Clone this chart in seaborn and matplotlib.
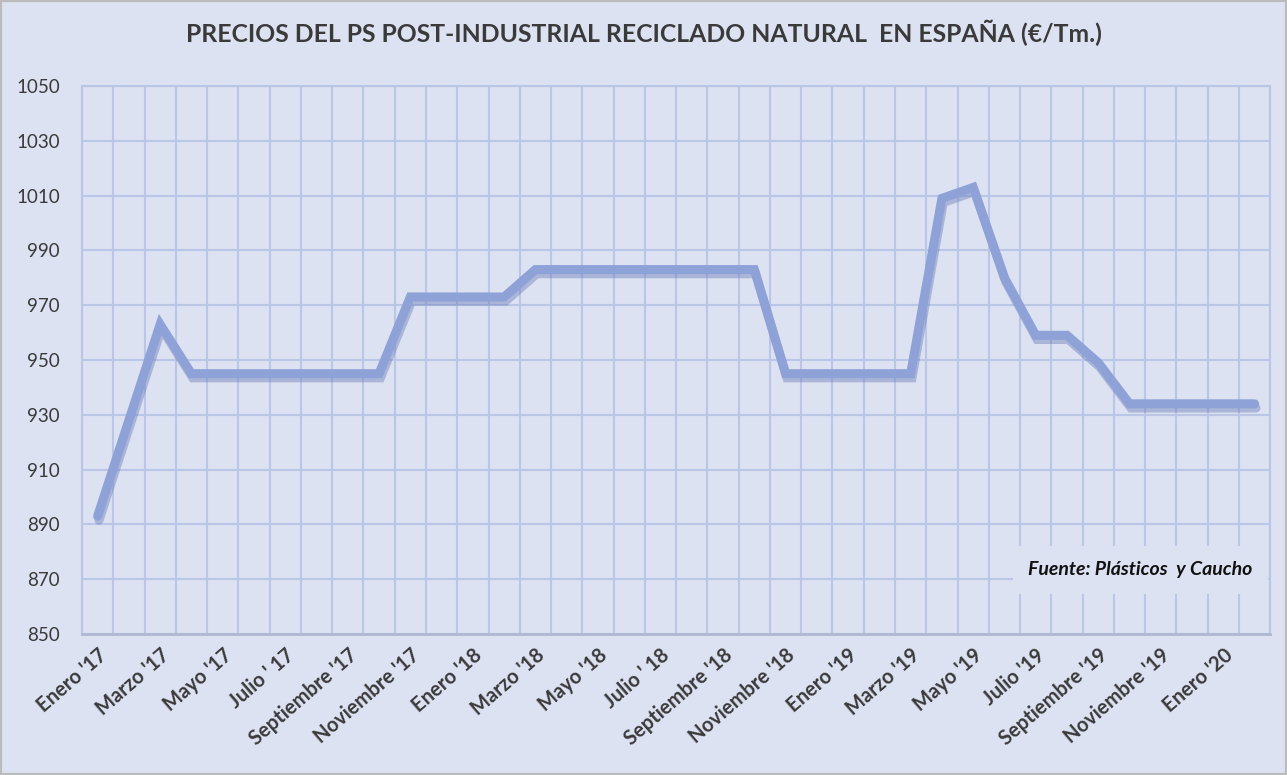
import pandas as pd
import numpy as np
import matplotlib
matplotlib.use("Agg")
import matplotlib.pyplot as plt
import matplotlib.patheffects as pe
import matplotlib.transforms as mtransforms
import seaborn as sns

# ==========================
# Data
# ==========================

meses = ["Enero", "Febrero", "Marzo", "Abril", "Mayo", "Junio", "Julio",
         "Agosto", "Septiembre", "Octubre", "Noviembre", "Diciembre"]

periodos = [f"{m} '{a}" for a in ["17", "18", "19"] for m in meses] + ["Enero '20", "Febrero '20"]

precios = [893, 928, 963, 945, 945, 945, 945, 945, 945, 945, 973, 973,
           973, 973, 983, 983, 983, 983, 983, 983, 983, 983, 945, 945,
           945, 945, 945, 1009, 1013, 980, 959, 959, 949, 934, 934, 934,
           934, 934]

etiquetas = ["Enero '17", "Marzo '17", "Mayo '17", "Julio ' 17", "Septiembre '17",
             "Noviembre '17", "Enero '18", "Marzo '18", "Mayo '18", "Julio ' 18",
             "Septiembre '18", "Noviembre '18", "Enero '19", "Marzo '19", "Mayo '19",
             "Julio '19", "Septiembre '19", "Noviembre '19", "Enero '20"]

df = pd.DataFrame({"periodo": periodos, "precio": precios})
df["idx"] = range(len(df))

# ==========================
# Plot
# ==========================

fondo = "#DCE2F2"
rejilla = "#B9C6E6"
linea = "#8EA2D8"
texto = "#3A3A3A"

sns.set_theme(style="white")
plt.rcParams["font.family"] = ["Lato", "DejaVu Sans"]

fig = plt.figure(figsize=(12.87, 7.75), dpi=100, facecolor=fondo)
ax = fig.add_axes([0.0637, 0.182, 0.9233, 0.707])
ax.set_facecolor(fondo)

sns.lineplot(data=df, x="idx", y="precio", ax=ax, color=linea, linewidth=6.5,
             solid_capstyle="round", solid_joinstyle="miter",
             path_effects=[pe.SimpleLineShadow(offset=(1, -3), shadow_color="#6F7FB8", alpha=0.45),
                           pe.Normal()])

ax.set_xlim(-0.5, len(df) - 0.5)
ax.set_ylim(850, 1050)
ax.set_yticks(range(850, 1051, 20))

# vertical grid between categories
ax.set_xticks(np.arange(-0.5, len(df), 1), minor=True)
ax.set_xticks(range(0, len(df), 2))
ax.set_xticklabels(etiquetas, rotation=41, ha="right", va="top", rotation_mode="anchor",
                   fontsize=14.5, fontweight="bold", color=texto)
desplaza = mtransforms.ScaledTranslation(-7 / 100, 0, fig.dpi_scale_trans)
for lab in ax.get_xticklabels():
    lab.set_transform(lab.get_transform() + desplaza)
ax.tick_params(axis="x", which="major", length=0, pad=8)
ax.tick_params(axis="x", which="minor", length=0)
ax.tick_params(axis="y", length=0, labelsize=13.5, labelcolor=texto, pad=16)
ax.grid(True, which="minor", axis="x", color=rejilla, linewidth=1.5)
ax.grid(True, which="major", axis="y", color=rejilla, linewidth=1.5)
ax.set_axisbelow(True)

for s in ["top", "left", "right"]:
    ax.spines[s].set_color(rejilla)
    ax.spines[s].set_linewidth(1.5)
ax.spines["bottom"].set_color("#B0B8D0")
ax.spines["bottom"].set_linewidth(2)

ax.set_xlabel("")
ax.set_ylabel("")

fig.text(0.5, 0.958, "PRECIOS DEL PS POST-INDUSTRIAL RECICLADO NATURAL  EN ESPAÑA (€/Tm.)",
         ha="center", va="center", fontsize=17.8, fontweight="bold", color=texto)

ax.text(0.985, 0.117, "Fuente: Plásticos  y Caucho", transform=ax.transAxes,
        ha="right", va="center", fontsize=14, fontweight="bold", fontstyle="italic",
        color="#111111", zorder=5,
        bbox=dict(boxstyle="square,pad=0.8", facecolor=fondo, edgecolor="none"))

fig.patches.append(plt.Rectangle((0, 0), 1, 1, transform=fig.transFigure, fill=False,
                                 edgecolor="#BBBBBB", linewidth=3))

fig.savefig("out.png", dpi=100, facecolor=fondo)
